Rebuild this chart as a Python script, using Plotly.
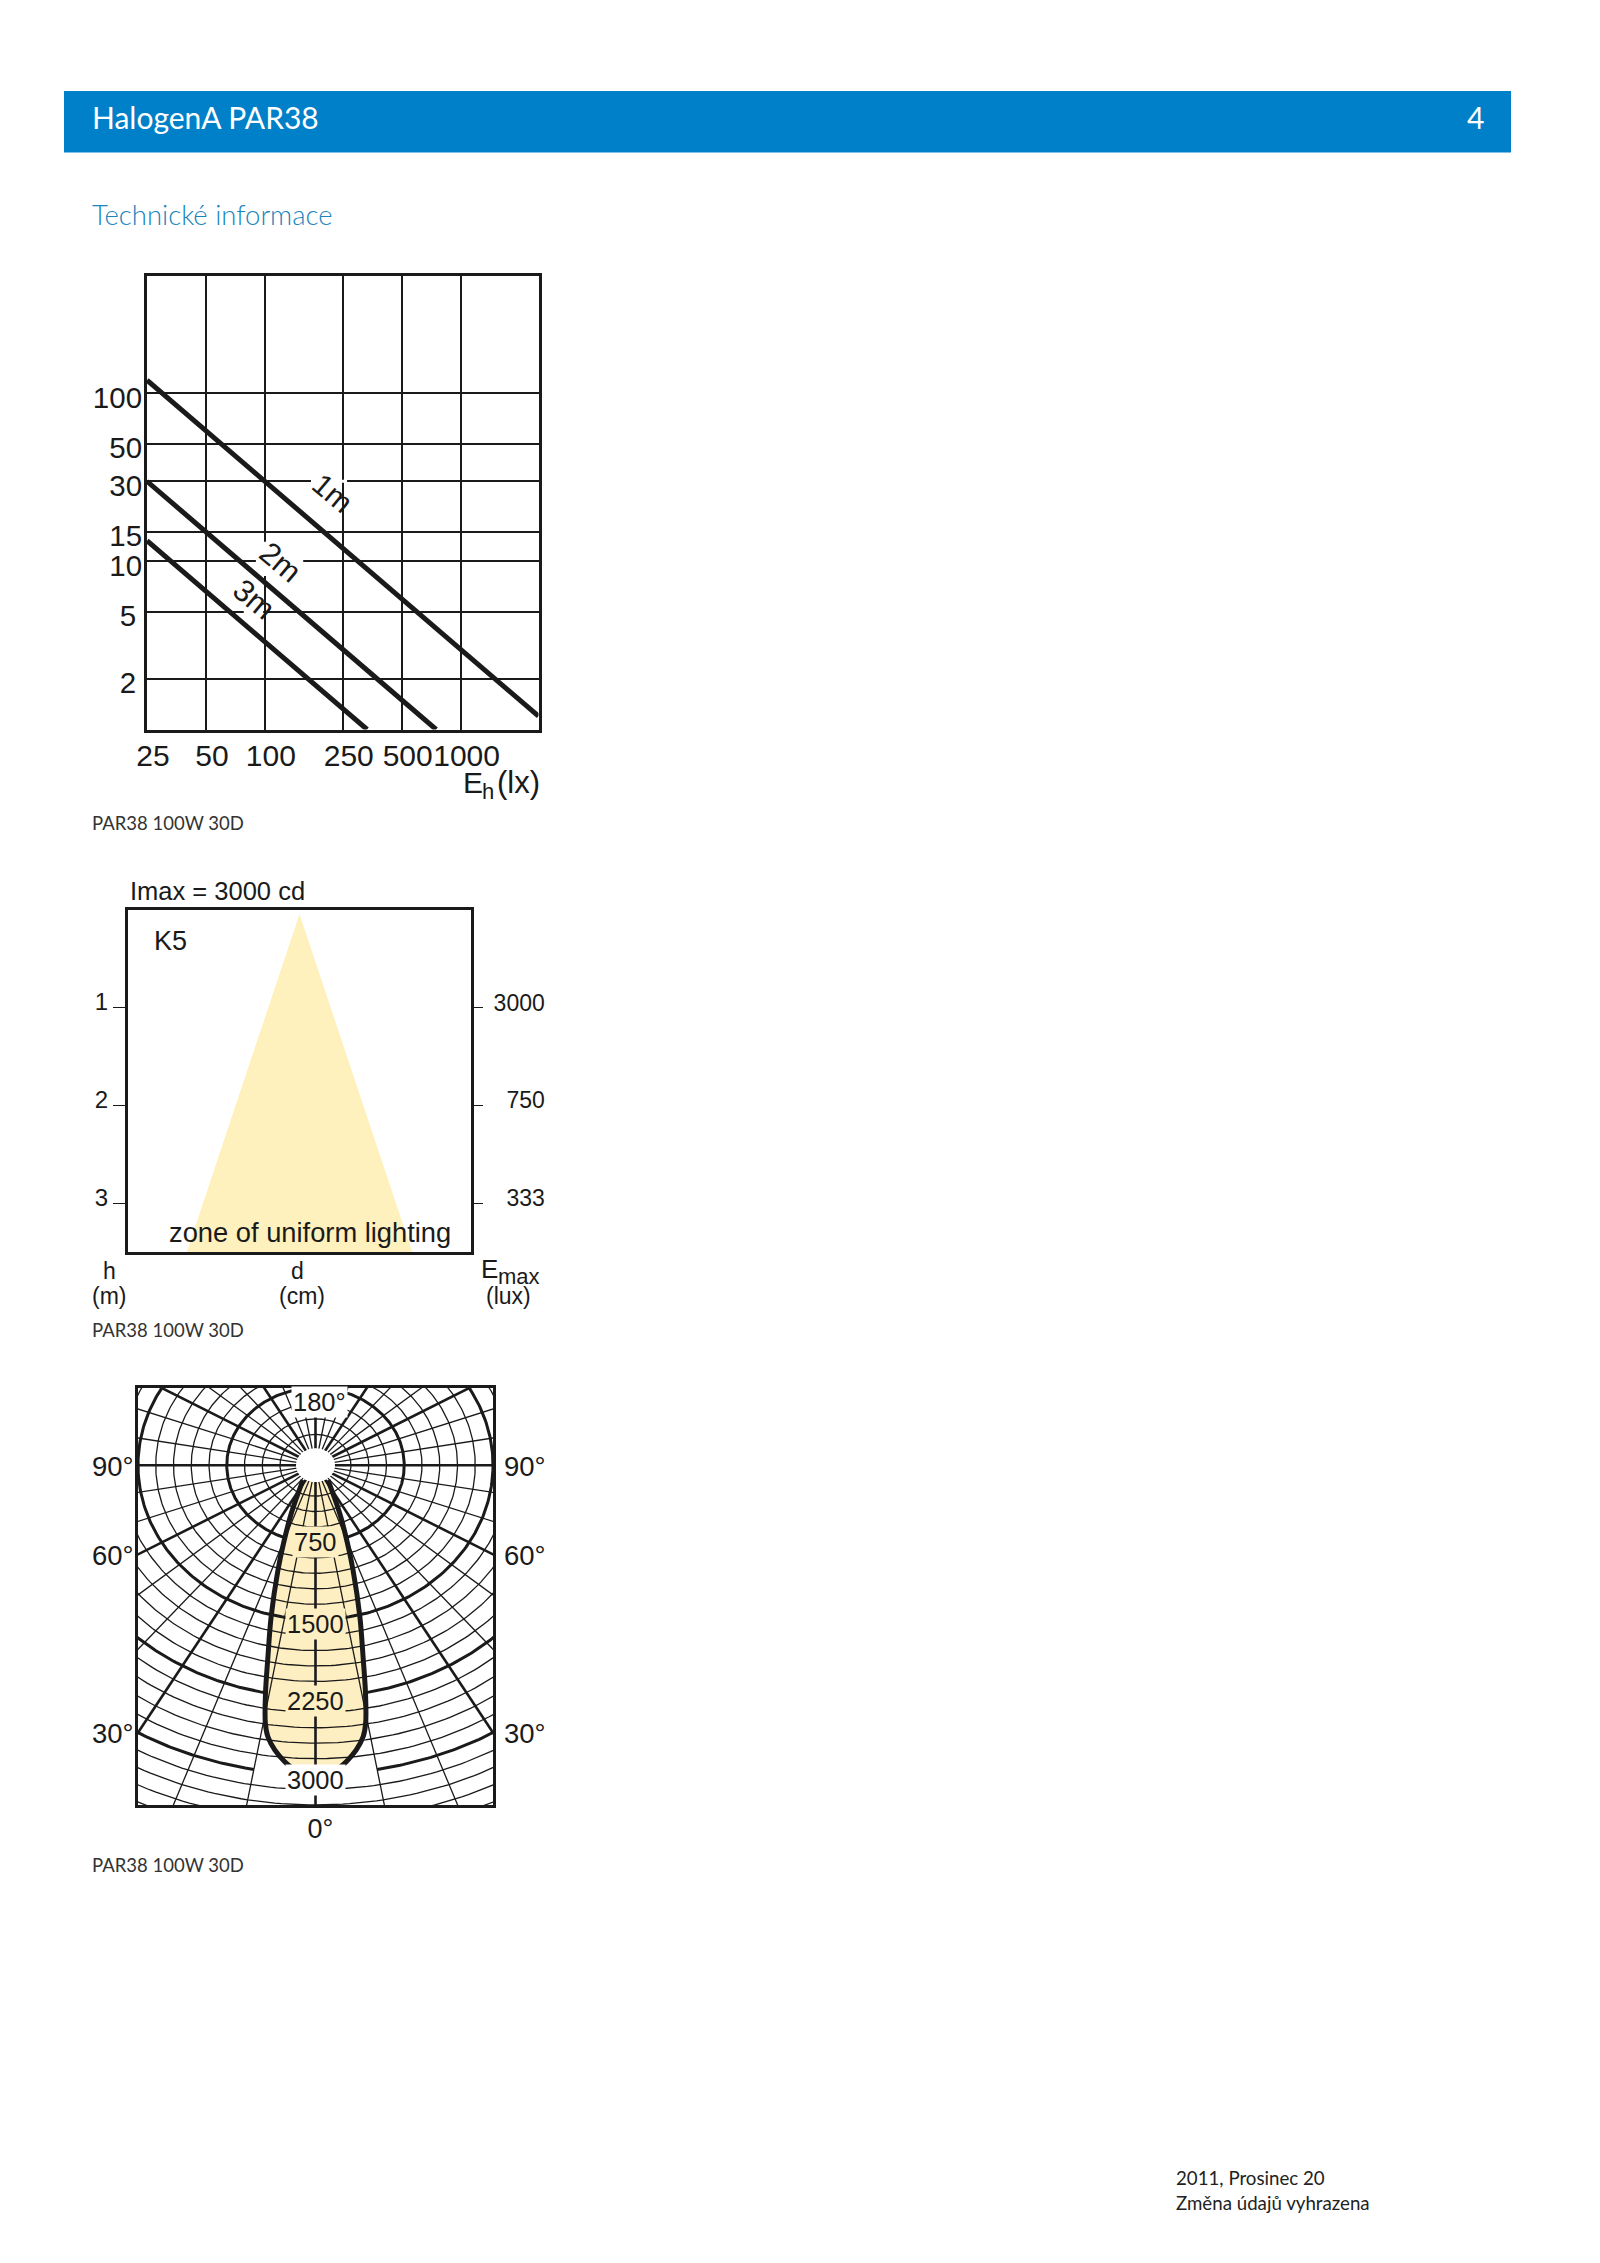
import numpy as np
import plotly.graph_objects as go

W, H = 1600, 2263
BLACK = "#1a1a1a"
YEL = "#FFF1BD"
LOBE = "#FEEFC2"
BLUE = "#0080C8"

# ---- Chart 1 data
eh_ticks = [25, 50, 100, 250, 500, 1000]
d_ticks = [2, 5, 10, 15, 30, 50, 100]
d_text = ["2\u2009", "5\u2009", "10", "15", "30", "50", "100"]
line_1m_x = [25, 2500]
line_1m_y = [120, 1.2]
line_2m_x = [25, 750]
line_2m_y = [30, 1]
line_3m_x = [25, 333]
line_3m_y = [13.3, 1]
gap_1m_x = [172, 263]
gap_2m_x = [90, 157]
gap_3m_x = [78, 98]
gap_v_y = [8.2, 13.1]

# ---- Chart 2 data
h_ticks = [1, 2, 3]
emax_text = ["3000", "\u2007750", "\u2007333"]
cone_d = [0, 94, -94]
cone_h = [0.04, 3.5, 3.5]

# ---- Chart 3 data
ring_steps = [300, 450, 600, 750, 900, 1050, 1200, 1350, 1500, 1650, 1800, 1950, 2100, 2250,
              2400, 2550, 2700, 2850, 3000, 3150, 3300, 3450, 3600]
thick_rings = [750, 1500, 2250, 3000]
ring_gap_deg = {750: 20, 1500: 0, 2250: 11, 3000: 10}
spokes = [0, 10, 20, 30, 40, 50, 60, 70, 80, 90, 100, 110, 120, 130, 140, 150, 160, 170, 180]
thick_spokes = [0, 30, 60, 90, 120, 150, 180]
lobe_deg = [36, 23.6, 19.6, 17.3, 14.3, 12.2, 10.8, 9.6, 8.7, 7.1, 5.2, 3.7]
lobe_cd = [180, 512, 806, 1067, 1518, 1902, 2255, 2541, 2665, 2786, 2889, 2954]
side_deg = [90, 60, 30]
side_y = [0, -866, -2598]
side_text = ["90°", "60°", "30°"]
inside_labels = ["750", "1500", "2250", "3000"]
inside_y = [-744, -1545, -2289, -3055]


def px_dom_x(a, b):
    return [a / W, b / W]


def px_dom_y(top, bot):
    return [1 - bot / H, 1 - top / H]


fig = go.Figure()

# ---- chart 1 traces
for gx, gy in [(gap_1m_x, 30), (gap_2m_x, 10), (gap_3m_x, 5)]:
    fig.add_trace(go.Scatter(x=gx, y=[gy, gy], mode="lines", line=dict(color="white", width=3),
                             xaxis="x", yaxis="y", hoverinfo="skip"))
fig.add_trace(go.Scatter(x=[100, 100], y=gap_v_y, mode="lines", line=dict(color="white", width=3),
                         xaxis="x", yaxis="y", hoverinfo="skip"))
for lx, ly in [(line_1m_x, line_1m_y), (line_2m_x, line_2m_y), (line_3m_x, line_3m_y)]:
    fig.add_trace(go.Scatter(x=lx, y=ly, mode="lines", line=dict(color=BLACK, width=5),
                             xaxis="x", yaxis="y"))

# ---- chart 2 traces
fig.add_trace(go.Scatter(x=cone_d, y=cone_h, mode="lines", fill="toself", fillcolor=YEL,
                         line=dict(width=0), xaxis="x2", yaxis="y2"))
fig.add_trace(go.Scatter(x=[0], y=[h_ticks[0]], mode="markers", marker=dict(opacity=0),
                         xaxis="x2", yaxis="y4", hoverinfo="skip"))


# ---- chart 3 traces
def ellipse_xy(r, a_from, a_to, n=181):
    t = np.radians(np.linspace(a_from, a_to, n))
    return r * np.sin(t), -r * np.cos(t)


lobe_t = np.radians(np.array(lobe_deg))
lobe_r = np.array(lobe_cd)
rx, ry = lobe_r * np.sin(lobe_t), -lobe_r * np.cos(lobe_t)
lx = np.concatenate([rx, -rx[::-1]])
ly = np.concatenate([ry, ry[::-1]])
fig.add_trace(go.Scatter(x=lx, y=ly, mode="lines", fill="toself", fillcolor=LOBE,
                         line=dict(width=0, shape="spline"), xaxis="x3", yaxis="y3"))


def rings_trace(values, width):
    xs, ys = [], []
    for r in values:
        g = ring_gap_deg.get(r, 0)
        arcs = [(g, 180), (-180, -g)] if g else [(-180, 180)]
        for a, b in arcs:
            x, y = ellipse_xy(r, a, b, 361)
            xs += list(x) + [None]
            ys += list(y) + [None]
    return go.Scatter(x=xs, y=ys, mode="lines", line=dict(color=BLACK, width=width),
                      xaxis="x3", yaxis="y3", hoverinfo="skip")


def spokes_trace(values, width):
    xs, ys = [], []
    for a in values:
        for sgn in ([1, -1] if a not in (0, 180) else [1]):
            t = np.radians(a) * sgn
            xs += [160 * np.sin(t), 4000 * np.sin(t), None]
            ys += [-160 * np.cos(t), -4000 * np.cos(t), None]
    return go.Scatter(x=xs, y=ys, mode="lines", line=dict(color=BLACK, width=width),
                      xaxis="x3", yaxis="y3", hoverinfo="skip")


fig.add_trace(rings_trace([r for r in ring_steps if r not in thick_rings], 1.3))
fig.add_trace(spokes_trace([a for a in spokes if a not in thick_spokes], 1.3))
fig.add_trace(rings_trace(thick_rings, 3))
fig.add_trace(spokes_trace(thick_spokes, 2.6))
fig.add_trace(go.Scatter(x=rx, y=ry, mode="lines", line=dict(color=BLACK, width=5, shape="spline"),
                         xaxis="x3", yaxis="y3"))
fig.add_trace(go.Scatter(x=-rx, y=ry, mode="lines", line=dict(color=BLACK, width=5, shape="spline"),
                         xaxis="x3", yaxis="y3"))
hx, hy = ellipse_xy(165, -180, 180, 121)
fig.add_trace(go.Scatter(x=hx, y=hy, mode="lines", fill="toself", fillcolor="white",
                         line=dict(width=0), xaxis="x3", yaxis="y3", hoverinfo="skip"))
fig.add_trace(go.Scatter(x=[0], y=[side_y[0]], mode="markers", marker=dict(opacity=0),
                         xaxis="x3", yaxis="y5", hoverinfo="skip"))

ARIAL = "Liberation Sans"
GILL = "Lato"


def frame(width=3):
    return dict(showline=True, mirror=True, linecolor=BLACK, linewidth=width, zeroline=False)


layout = dict(
    width=W, height=H, margin=dict(l=0, r=0, t=0, b=0, autoexpand=False), showlegend=False,
    paper_bgcolor="white", plot_bgcolor="white", hovermode=False,
    xaxis=dict(domain=px_dom_x(147, 538.5), type="log", range=[np.log10(25), np.log10(2500)],
               tickvals=eh_ticks, ticktext=[str(v) for v in eh_ticks], showgrid=True, tickangle=0,
               gridcolor=BLACK, gridwidth=1.5, ticks="", tickfont=dict(family=ARIAL, size=30, color=BLACK),
               ticklabelstandoff=-3, ticklabelshift=6, **frame()),
    yaxis=dict(domain=px_dom_y(276, 729.5), type="log", range=[0, np.log10(500)],
               tickvals=d_ticks, ticktext=d_text, showgrid=True,
               gridcolor=BLACK, gridwidth=1.5, ticks="", tickfont=dict(family=ARIAL, size=29.5, color=BLACK),
               ticklabelstandoff=-4, ticklabelshift=4, **frame()),
    xaxis2=dict(domain=px_dom_x(128, 471), anchor="y2", range=[-143, 143], showticklabels=False,
                showgrid=False, ticks="", **frame()),
    yaxis2=dict(domain=px_dom_y(910, 1252), anchor="x2", range=[3.5, 0], tickvals=h_ticks,
                ticktext=[str(v) for v in h_ticks], showgrid=False, ticks="outside", ticklen=12,
                tickwidth=1, tickcolor=BLACK, tickfont=dict(family=ARIAL, size=24, color=BLACK),
                ticklabelstandoff=0, ticklabelshift=6, **frame()),
    yaxis4=dict(domain=px_dom_y(910, 1252), anchor="x2", overlaying="y2", side="right",
                range=[3.5, 0], tickvals=h_ticks, ticktext=emax_text, showgrid=False,
                ticks="outside", ticklen=11, tickwidth=1, tickcolor=BLACK,
                tickfont=dict(family=ARIAL, size=23, color=BLACK), ticklabelstandoff=6,
                ticklabelshift=5, zeroline=False),
    xaxis3=dict(domain=px_dom_x(138, 493), anchor="y3", range=[-1500, 1500], tickvals=[0],
                ticktext=["0°"], showgrid=False, ticks="", tickfont=dict(family=ARIAL, size=27, color=BLACK),
                ticklabelstandoff=-2, ticklabelshift=5, **frame()),
    yaxis3=dict(domain=px_dom_y(1388, 1805), anchor="x3", range=[-3300, 750], tickvals=side_y,
                ticktext=side_text, showgrid=False, ticks="", tickfont=dict(family=ARIAL, size=27.5, color=BLACK),
                ticklabelstandoff=-4, ticklabelshift=1, **frame()),
    yaxis5=dict(domain=px_dom_y(1388, 1805), anchor="x3", overlaying="y3", side="right",
                range=[-3300, 750], tickvals=side_y, ticktext=side_text, showgrid=False, ticks="",
                tickfont=dict(family=ARIAL, size=27.5, color=BLACK), ticklabelstandoff=10,
                ticklabelshift=1, zeroline=False),
)

ann = []


def page_text(x, y, text, size, color=BLACK, family=ARIAL, anchor="left", weight=None):
    f = dict(family=family, size=size, color=color)
    if weight:
        f["weight"] = weight
    ann.append(dict(xref="paper", yref="paper", x=x / W, y=1 - y / H, text=text, showarrow=False,
                    xanchor=anchor, yanchor="middle", font=f, borderpad=0))


# page furniture
page_text(91, 117, "HalogenA PAR38", 30, "white", GILL)
page_text(1475, 117, "4", 30, "white", GILL, "center")
page_text(91, 215, "Technické informace", 27.5, "#1a84bc", GILL, weight=300)
for cy in (823, 1330, 1865):
    page_text(91, cy, "PAR38 100W 30D", 18.5, "#333333", GILL)
page_text(1175, 2178, "2011, Prosinec 20", 18.7, "#222222", GILL)
page_text(1175, 2203, "Změna údajů vyhrazena", 18.7, "#222222", GILL)

# chart 1 labels
page_text(462, 783, "E", 30)
page_text(481, 791, "h", 22)
page_text(541, 783, "(lx)", 31, anchor="right")
for label, xd, yd, fs in [("1m", 224, 25.5, 30), ("2m", 120.6, 9.9, 31), ("3m", 88, 5.9, 31)]:
    ann.append(dict(xref="x", yref="y", x=np.log10(xd), y=np.log10(yd), text=label, showarrow=False,
                    textangle=40, font=dict(family=ARIAL, size=fs, color=BLACK)))

# chart 2 labels
page_text(129, 891, "Imax = 3000 cd", 25.5)
page_text(153, 941, "K5", 27)
page_text(168, 1233, "zone of uniform lighting", 27.3)
page_text(109, 1271, "h", 23, anchor="center")
page_text(109, 1296, "(m)", 23, anchor="center")
page_text(297, 1271, "d", 23, anchor="center")
page_text(302, 1296, "(cm)", 23, anchor="center")
page_text(480, 1269, "E", 26)
page_text(497, 1277, "max", 22)
page_text(508, 1296, "(lux)", 23, anchor="center")

# chart 3 labels
for label, yv in zip(inside_labels, inside_y):
    ann.append(dict(xref="x3", yref="y3", x=0, y=yv, text=label, showarrow=False,
                    font=dict(family=ARIAL, size=25.5, color=BLACK),
                    bgcolor="white" if label == "3000" else LOBE, borderpad=1))
ann.append(dict(xref="x3", yref="y3", x=31, y=614, text="180°", showarrow=False,
                font=dict(family=ARIAL, size=25.5, color=BLACK), bgcolor="white", borderpad=1))

layout["annotations"] = ann
layout["shapes"] = [dict(type="rect", xref="paper", yref="paper", x0=64 / W, x1=1511 / W,
                         y0=1 - 152.5 / H, y1=1 - 91 / H, fillcolor=BLUE, line=dict(width=0), layer="below")]

fig.update_layout(**layout)
fig.write_html("out.html", post_script="document.body.style.margin='0';",
               config={"displayModeBar": False})
